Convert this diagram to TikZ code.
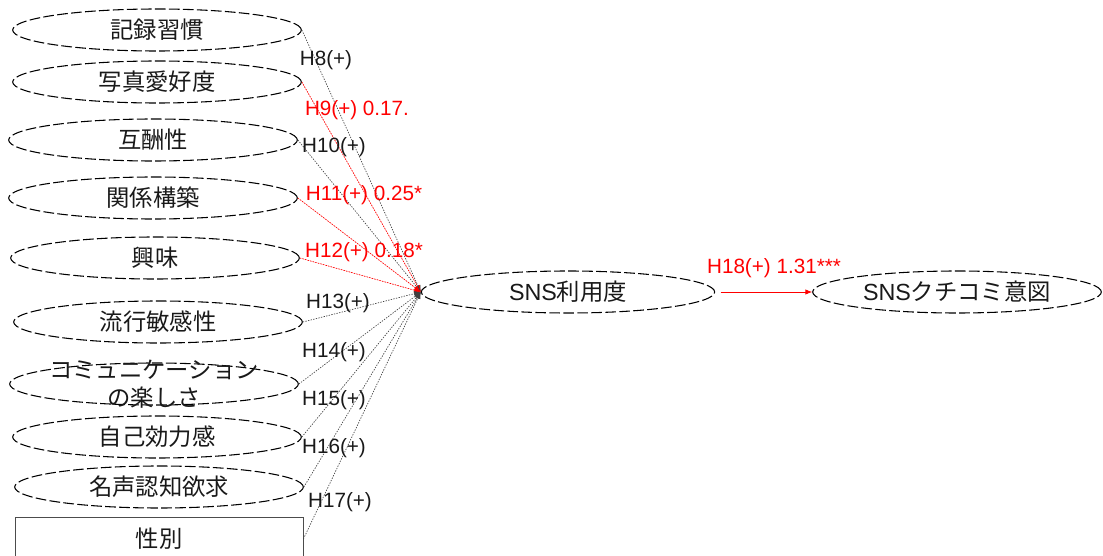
\documentclass[tikz,border=0pt]{standalone}
\usepackage{fontspec}
\setmainfont{Liberation Sans}
\newfontfamily\jp{Noto Sans CJK JP}
\usetikzlibrary{shapes.geometric,arrows.meta}
\definecolor{lred}{HTML}{FF0000}
\begin{document}
\begin{tikzpicture}[x=0.75pt,y=-0.75pt,
 var/.style={ellipse, draw=black, line width=0.8pt, dash pattern=on 8pt off 2.5pt, inner sep=0pt,
   minimum width=216.5pt, minimum height=31.5pt, font=\jp\fontsize{17.5}{20}\selectfont, text=black!90},
 genderbox/.style={rectangle, draw=black!70, line width=0.6pt, inner sep=0pt,
   minimum width=216pt, minimum height=33pt, font=\jp\fontsize{17.5}{20}\selectfont, text=black!90},
 lab/.style={font=\fontsize{15.5}{18}\selectfont, inner sep=0pt, text=black!90},
 redlab/.style={lab, text=lred},
 lnk/.style={draw=black!75, line width=0.5pt, dash pattern=on 1pt off 1pt, -{Latex[length=5pt,width=4pt]}},
 siglnk/.style={lnk, draw=lred, fill=lred},
]
\useasboundingbox (0,0) rectangle (1103,556);
\clip (0,0) rectangle (1103,556);

% explanatory variables
\node[var] (v1) at (157,30) {記録習慣};
\node[var] (v2) at (157,82) {写真愛好度};
\node[var] (v3) at (153,140) {互酬性};
\node[var] (v4) at (153,198) {関係構築};
\node[var] (v5) at (155,258) {興味};
\node[var] (v6) at (158,322) {流行敏感性};
\node[var, label={[font=\jp\fontsize{17.5}{21}\selectfont, align=center, text=black!90]center:コミュニケーション\\の楽しさ}] (v7) at (154,384) {};
\node[var] (v8) at (157,437) {自己効力感};
\node[var] (v9) at (159,487) {名声認知欲求};
\node[genderbox] (v10) at (159,539) {性別};

% outcome variables
\node[var, minimum width=220pt, font=\fontsize{17.5}{20}\selectfont] (sns) at (568,292) {SNS{\jp 利用度}};
\node[var, font=\fontsize{17.5}{20}\selectfont] (wom) at (957,292) {SNS{\jp クチコミ意図}};

% connectors
\draw[lnk] (v1.east) -- (sns.west);
\draw[siglnk] (v2.east) -- (sns.west);
\draw[lnk] (v3.east) -- (sns.west);
\draw[siglnk] (v4.east) -- (sns.west);
\draw[siglnk] (v5.east) -- (sns.west);
\draw[lnk] (v6.east) -- (sns.west);
\draw[lnk] (v7.east) -- (sns.west);
\draw[lnk] (v8.east) -- (sns.west);
\draw[lnk] (v9.east) -- (sns.west);
\draw[lnk] (v10.east) -- (sns.west);
\draw[draw=lred, line width=0.6pt, -{Latex[length=5pt,width=4pt]}] ([xshift=4pt]sns.east) -- (wom.west);

% labels
\node[lab] (l8) at (326,60) {H8(+)};
\node[redlab] (l9) at (357,110) {H9(+) 0.17.};
\node[lab] (l10) at (334,147) {H10(+)};
\node[redlab] (l11) at (364,195) {H11(+) 0.25*};
\node[redlab] (l12) at (364,252) {H12(+) 0.18*};
\node[lab] (l13) at (338,303) {H13(+)};
\node[lab] (l14) at (334,352) {H14(+)};
\node[lab] (l15) at (334,400) {H15(+)};
\node[lab] (l16) at (334,448) {H16(+)};
\node[lab] (l17) at (340,502) {H17(+)};
\node[redlab] (l18) at (774,268) {H18(+) 1.31***};
\end{tikzpicture}
\end{document}
